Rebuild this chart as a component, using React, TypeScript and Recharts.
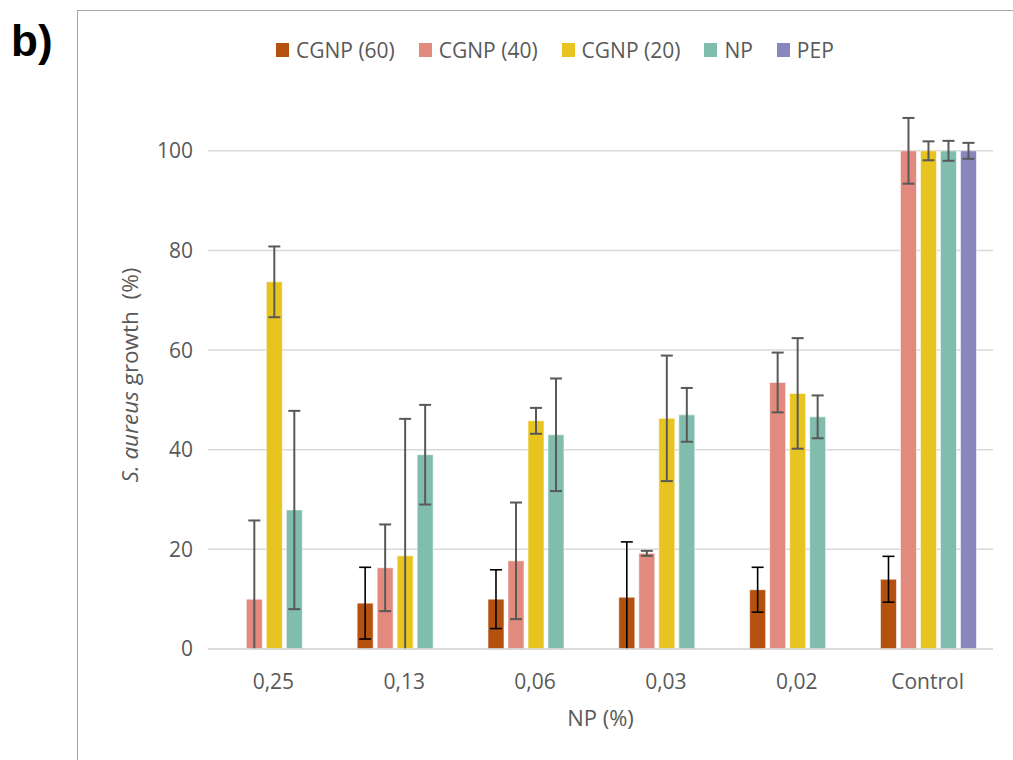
import * as Recharts from 'recharts'
import { Bar, BarChart, CartesianGrid, ErrorBar, Legend, XAxis, YAxis } from 'recharts'

const categories = ['0,25', '0,13', '0,06', '0,03', '0,02', 'Control']

const cgnp60 = [0, 9.2, 10.0, 10.4, 11.9, 14.0]
const cgnp60Err = [null, 7.2, 5.9, 11.1, 4.5, 4.6]
const cgnp40 = [10.0, 16.3, 17.7, 19.2, 53.5, 100]
const cgnp40Err = [15.8, 8.7, 11.7, 0.5, 6.0, 6.6]
const cgnp20 = [73.7, 18.7, 45.8, 46.3, 51.3, 100]
const cgnp20Err = [7.1, 27.5, 2.6, 12.6, 11.1, 1.9]
const np = [27.9, 39.0, 43.0, 47.0, 46.6, 100]
const npErr = [19.9, 10.0, 11.3, 5.4, 4.3, 2.0]
const pep = [0, 0, 0, 0, 0, 100]
const pepErr = [null, null, null, null, null, 1.6]

const yTicks = [0, 20, 40, 60, 80, 100]
const Y_MAX = 110

const SERIES = [
  { key: 'cgnp60', name: 'CGNP (60)', color: '#b5510f', err: '#000000' },
  { key: 'cgnp40', name: 'CGNP (40)', color: '#e28a7d', err: '#595959' },
  { key: 'cgnp20', name: 'CGNP (20)', color: '#e8c420', err: '#595959' },
  { key: 'np', name: 'NP', color: '#80bdad', err: '#595959' },
  { key: 'pep', name: 'PEP', color: '#8787be', err: '#595959' },
]

const rows = categories.map((label, i) => ({
  label,
  cgnp60: cgnp60[i],
  cgnp60Err: cgnp60Err[i],
  cgnp40: cgnp40[i],
  cgnp40Err: cgnp40Err[i],
  cgnp20: cgnp20[i],
  cgnp20Err: cgnp20Err[i],
  np: np[i],
  npErr: npErr[i],
  pep: pep[i],
  pepErr: pepErr[i],
}))

const FONT = '"Open Sans", "Noto Sans", sans-serif'
const TEXT = '#595959'
const CHART_ID = 'saureus'
const CLIP_ID = 'saureus-plot-clip'

const MARGIN = { top: 101, right: 20, bottom: 26, left: 0 }
const Y_AXIS_W = 208
const X_AXIS_H = 85
const W = 1013
const H = 760

function LegendRow() {
  return (
    <div style={{ display: 'flex', alignItems: 'center', paddingLeft: 276, fontFamily: FONT, fontSize: 21, color: TEXT }}>
      {SERIES.map((s) => (
        <div key={s.key} style={{ display: 'flex', alignItems: 'center', marginRight: 24 }}>
          <span style={{ display: 'inline-block', width: 13, height: 14, background: s.color, marginRight: 7 }} />
          <span style={{ lineHeight: '28px' }}>{s.name}</span>
        </div>
      ))}
    </div>
  )
}

function YLabel(props: any) {
  const vb = props.viewBox || { x: 0, y: 101, width: 208, height: 548 }
  const cx = 138
  const cy = vb.y + vb.height / 2
  return (
    <text
      x={cx}
      y={cy}
      transform={`rotate(-90 ${cx} ${cy})`}
      textAnchor="middle"
      fill={TEXT}
      style={{ fontFamily: FONT, fontSize: 22.5 }}
    >
      <tspan fontStyle="italic">S. aureus</tspan>
      <tspan>{' growth\u00a0\u00a0(%)'}</tspan>
    </text>
  )
}

// error bars that run below zero get cut at the plot edge, as in Excel
const fallbackArea = {
  x: MARGIN.left + Y_AXIS_W,
  y: MARGIN.top,
  width: W - MARGIN.left - MARGIN.right - Y_AXIS_W,
  height: H - MARGIN.top - MARGIN.bottom - X_AXIS_H,
}
const usePlotAreaSafe: () => any = (Recharts as any).usePlotArea ?? (() => undefined)

function PlotClip() {
  const area = usePlotAreaSafe() ?? fallbackArea
  return (
    <defs>
      <clipPath id={CLIP_ID}>
        <rect x={area.x - 20} y={area.y - 20} width={area.width + 40} height={area.height + 20} />
      </clipPath>
    </defs>
  )
}

// grid only on the labelled ticks, not on the domain top
const gridRows = ({ offset }: any) =>
  yTicks.map((t) => offset.top + offset.height * (1 - t / Y_MAX))

export default function App() {
  return (
    <div style={{ position: 'absolute', left: 0, top: 0, width: W, height: H, overflow: 'hidden', background: '#fff' }}>
      <style>{`#${CHART_ID} g[class*="errorBar"] { clip-path: url(#${CLIP_ID}); }`}</style>
      <div
        style={{
          position: 'absolute',
          left: 77,
          top: 10,
          width: 1000,
          height: 800,
          borderLeft: '1.5px solid #a6a6a6',
          borderTop: '1.5px solid #a6a6a6',
        }}
      />
      <div
        style={{
          position: 'absolute',
          left: 11,
          top: 16,
          fontFamily: '"Liberation Sans", Arial, sans-serif',
          fontWeight: 700,
          fontSize: 44,
          lineHeight: '50px',
          color: '#000',
        }}
      >
        b)
      </div>
      <div id={CHART_ID} style={{ position: 'absolute', left: 0, top: 0 }}>
        <BarChart
          width={W}
          height={H}
          data={rows}
          margin={MARGIN}
          barCategoryGap="14%"
          barGap={4}
        >
          <PlotClip />
          <CartesianGrid
            vertical={false}
            stroke="#d9d9d9"
            strokeWidth={1.5}
            horizontalCoordinatesGenerator={gridRows}
          />
          <XAxis
            dataKey="label"
            height={X_AXIS_H}
            tickLine={false}
            tickSize={0}
            tickMargin={25}
            axisLine={{ stroke: '#d9d9d9', strokeWidth: 1.5 }}
            tick={{ fill: TEXT, fontSize: 21, fontFamily: FONT }}
            label={{ value: 'NP (%)', position: 'insideBottom', offset: 8, fill: TEXT, fontSize: 22, fontFamily: FONT }}
          />
          <YAxis
            width={Y_AXIS_W}
            domain={[0, Y_MAX]}
            ticks={yTicks}
            allowDataOverflow
            tickLine={false}
            tickSize={0}
            tickMargin={15}
            axisLine={false}
            tick={{ fill: TEXT, fontSize: 21, fontFamily: FONT }}
            label={{ content: YLabel }}
          />
          <Legend
            verticalAlign="middle"
            align="center"
            layout="horizontal"
            wrapperStyle={{ top: 36, left: 0, width: W }}
            content={() => <LegendRow />}
          />
          {SERIES.map((s) => (
            <Bar
              key={s.key}
              dataKey={s.key}
              name={s.name}
              fill={s.color}
              stroke="#ffffff"
              strokeOpacity={0.55}
              strokeWidth={1}
              isAnimationActive={false}
            >
              <ErrorBar
                dataKey={`${s.key}Err`}
                width={6}
                stroke={s.err}
                strokeWidth={s.key === 'cgnp60' ? 1.6 : 2}
                direction="y"
                isAnimationActive={false}
              />
            </Bar>
          ))}
        </BarChart>
      </div>
    </div>
  )
}
